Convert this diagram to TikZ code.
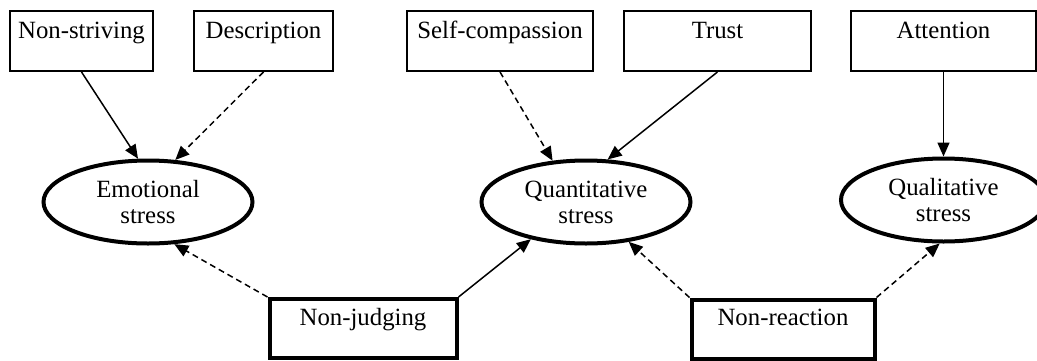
\documentclass[tikz,border=0pt]{standalone}
\usepackage{fontspec}
\setmainfont{Liberation Serif}
\usetikzlibrary{shapes.geometric,arrows.meta}

\begin{document}
\begin{tikzpicture}[x=1pt,y=-1pt,font=\fontsize{24.8}{26}\selectfont,
  facet/.style={draw,line width=1.9pt,inner xsep=0pt,inner ysep=0pt,text height=27pt,text depth=33pt},
  skill/.style={draw,line width=4pt,inner xsep=0pt,inner ysep=0pt,text height=26pt,text depth=33pt},
  strain/.style={draw,ellipse,line width=4pt,inner sep=0pt,minimum height=83pt,align=center},
  effect/.style={-{Triangle[length=14pt,width=12pt]},line width=1.5pt},
  weak/.style={effect,dash pattern=on 6pt off 4pt}]
\useasboundingbox (0,0) rectangle (1037,360);
\foreach \x/\w/\n/\lbl in {81.5/143/nstr/Non-striving,263.5/139/desc/Description,500/186/selfc/Self-compassion,717.5/187/trust/Trust,943.5/185/attn/Attention}
  \node[facet,minimum width=\w pt] (\n) at (\x,41) {\lbl};
\node[strain,minimum width=209pt] (emo) at (148,202) {Emotional\\stress};
\node[strain,minimum width=209pt] (quan) at (586,202) {Quantitative\\stress};
\node[strain,minimum width=205pt] (qual) at (943.5,200) {Qualitative\\stress};
\node[skill,minimum width=187pt] (nonj) at (363,328.5) {Non-judging};
\node[skill,minimum width=183pt] (nonr) at (783,329) {Non-reaction};
\draw[effect] (nstr.south) -- (emo.103);
\draw[weak] (desc.south) -- (emo.57);
\draw[weak] (selfc.south) -- (quan.129);
\draw[effect] (trust.south) -- (quan.63);
\draw[effect] (attn.south) -- (qual.north);
\draw[weak] (nonj.north west) -- (emo.-58);
\draw[effect] (nonj.north east) -- (quan.214);
\draw[weak] (nonr.north west) -- (quan.-43);
\draw[weak] (nonr.north east) -- (qual.-95);
\end{tikzpicture}
\end{document}
